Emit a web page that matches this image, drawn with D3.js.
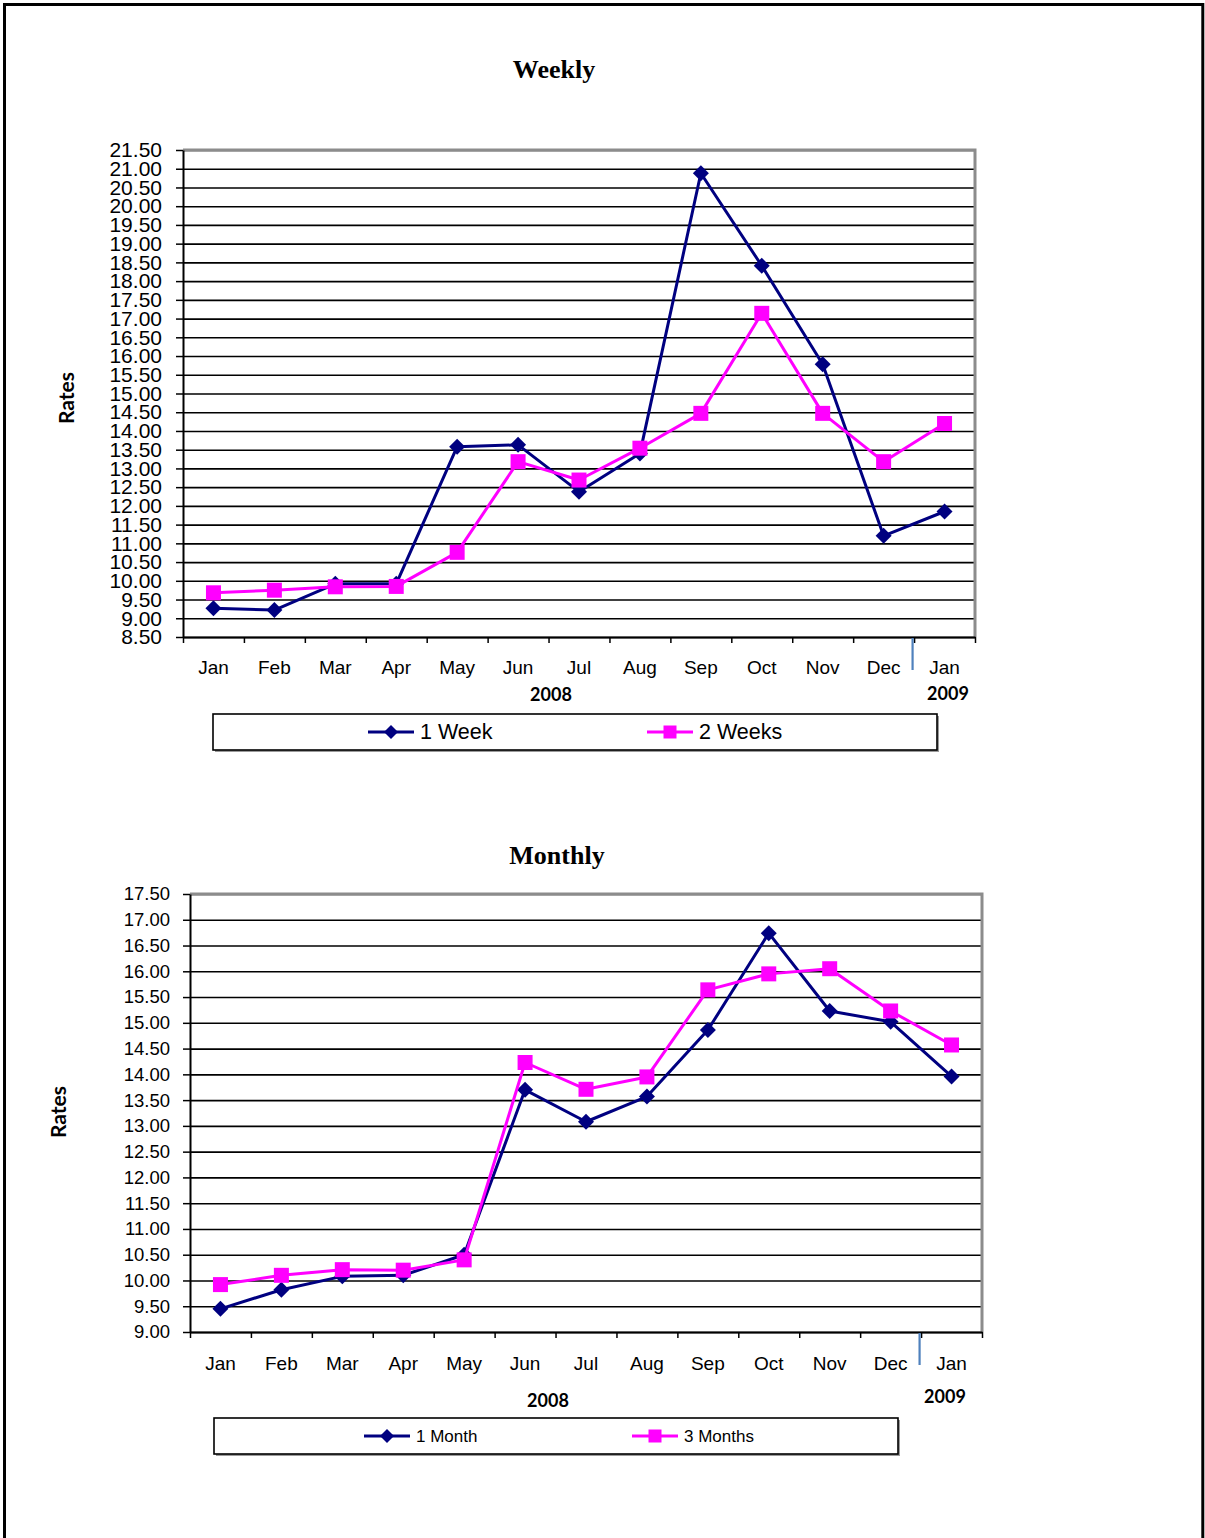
<!DOCTYPE html>
<html lang="en">
<head>
<meta charset="UTF-8">
<title>Weekly and Monthly Rates</title>
<script src="https://cdnjs.cloudflare.com/ajax/libs/d3/7.8.5/d3.min.js"></script>
<style>
body{ margin:0; background:#fff; }
svg{ display:block; }
</style>
</head>
<body>
<script>
// categories
var months = ["Jan", "Feb", "Mar", "Apr", "May", "Jun", "Jul", "Aug", "Sep", "Oct", "Nov", "Dec", "Jan"];
var years = ["2008", "2009"];

// weekly series
var oneWeek  = [9.27, 9.22, 9.92, 9.92, 13.58, 13.63, 12.38, 13.40, 20.88, 18.41, 15.78, 11.20, 11.85];
var twoWeeks = [9.68, 9.75, 9.84, 9.85, 10.76, 13.18, 12.69, 13.54, 14.47, 17.14, 14.47, 13.18, 14.20];

// monthly series
var oneMonth    = [9.45, 9.82, 10.08, 10.10, 10.50, 13.70, 13.08, 13.57, 14.86, 16.74, 15.23, 15.02, 13.96];
var threeMonths = [9.92, 10.10, 10.21, 10.20, 10.40, 14.23, 13.71, 13.95, 15.64, 15.95, 16.05, 15.23, 14.57];

// tick values
var weeklyTicks = [8.5, 9, 9.5, 10, 10.5, 11, 11.5, 12, 12.5, 13, 13.5, 14, 14.5, 15, 15.5,
                   16, 16.5, 17, 17.5, 18, 18.5, 19, 19.5, 20, 20.5, 21, 21.5];
var monthlyTicks = [9, 9.5, 10, 10.5, 11, 11.5, 12, 12.5, 13, 13.5, 14, 14.5, 15, 15.5, 16, 16.5, 17, 17.5];

var NAVY = "#000080", PINK = "#ff00ff";
var SANS = "'Liberation Sans', Arial, sans-serif";
var BOLD = "Lato, 'Open Sans', sans-serif";

var svg = d3.select("body").append("svg")
  .attr("width", 1205)
  .attr("height", 1538);

// page frame (open at the bottom)
svg.append("path")
  .attr("d", "M4.5,1540 V4.5 H1202.8 V1540")
  .attr("fill", "none")
  .attr("stroke", "#000")
  .attr("stroke-width", 3);

function diamond(r) {
  return "M0," + (-r) + "L" + r + ",0L0," + r + "L" + (-r) + ",0Z";
}
function square(r) {
  return "M" + (-r) + "," + (-r) + "H" + r + "V" + r + "H" + (-r) + "Z";
}

function drawChart(o) {
  var n = months.length;
  var x = d3.scaleBand().domain(d3.range(n)).range([o.left, o.left + o.width]);
  var xEdge = d3.scaleLinear().domain([0, n]).range([o.left, o.left + o.width]);
  var y = d3.scaleLinear().domain([o.ticks[0], o.ticks[o.ticks.length - 1]])
    .range([o.top + o.height, o.top]);
  var cx = function (i) { return x(i) + x.bandwidth() / 2; };
  var bottom = o.top + o.height;

  // title
  svg.append("text")
    .attr("x", o.titleX).attr("y", o.titleY)
    .attr("text-anchor", "middle")
    .style("font-family", "'Liberation Serif', 'Times New Roman', serif")
    .style("font-weight", "bold")
    .style("font-size", "26px")
    .text(o.title);

  // horizontal gridlines
  var grid = svg.append("g")
    .attr("transform", "translate(" + o.left + ",0)")
    .call(d3.axisLeft(y).tickValues(o.ticks).tickSize(-o.width).tickSizeOuter(0).tickFormat(""));
  grid.select(".domain").remove();
  grid.selectAll("line").attr("stroke", "#000").attr("stroke-width", 1.6);

  // gray plot frame top and right
  svg.append("path")
    .attr("d", "M" + o.left + "," + o.top + "H" + (o.left + o.width) + "V" + bottom)
    .attr("fill", "none")
    .attr("stroke", "#8c8c8c")
    .attr("stroke-width", 3);

  // y axis
  var yAxis = svg.append("g")
    .attr("transform", "translate(" + o.left + ",0)")
    .call(d3.axisLeft(y).tickValues(o.ticks).tickSize(7).tickSizeOuter(0)
      .tickPadding(o.yPad).tickFormat(d3.format(".2f")));
  yAxis.select(".domain").attr("stroke", "#000").attr("stroke-width", 2);
  yAxis.selectAll("line").attr("stroke", "#000").attr("stroke-width", 1.5);
  yAxis.selectAll("text")
    .style("font-family", SANS)
    .style("font-size", o.yFont + "px")
    .attr("fill", "#000");

  // x axis boundary ticks
  var xTicks = svg.append("g")
    .attr("transform", "translate(0," + bottom + ")")
    .call(d3.axisBottom(xEdge).tickValues(d3.range(n + 1)).tickSize(6).tickSizeOuter(0).tickFormat(""));
  xTicks.select(".domain").attr("stroke", "#000").attr("stroke-width", 2);
  xTicks.selectAll("line").attr("stroke", "#000").attr("stroke-width", 1.5);

  // month labels
  var xLab = svg.append("g")
    .attr("transform", "translate(0," + bottom + ")")
    .call(d3.axisBottom(x).tickSize(0).tickPadding(o.xPad).tickFormat(function (i) { return months[i]; }));
  xLab.select(".domain").remove();
  xLab.selectAll("text")
    .style("font-family", SANS)
    .style("font-size", o.xFont + "px")
    .attr("fill", "#000");

  // year separator
  svg.append("line")
    .attr("x1", xEdge(n - 1) - 1.5).attr("x2", xEdge(n - 1) - 1.5)
    .attr("y1", bottom + 1).attr("y2", bottom + 33)
    .attr("stroke", "#4f81bd")
    .attr("stroke-width", 2.2);

  // year labels
  svg.selectAll(null)
    .data(years)
    .enter().append("text")
    .attr("x", function (d, i) { return o.yearX[i]; })
    .attr("y", function (d, i) { return o.yearY[i]; })
    .attr("text-anchor", "middle")
    .style("font-family", BOLD)
    .style("font-weight", "bold")
    .style("font-size", "18px")
    .text(function (d) { return d; });

  // axis title
  svg.append("text")
    .attr("transform", "translate(" + o.ratesX + "," + o.ratesY + ") rotate(-90)")
    .attr("text-anchor", "middle")
    .attr("dominant-baseline", "central")
    .style("font-family", BOLD)
    .style("font-weight", "bold")
    .style("font-size", "21px")
    .text("Rates");

  // series
  var line = d3.line()
    .x(function (d, i) { return cx(i); })
    .y(function (d) { return y(d); });

  o.series.forEach(function (s) {
    svg.append("path")
      .datum(s.values)
      .attr("d", line)
      .attr("fill", "none")
      .attr("stroke", s.color)
      .attr("stroke-width", 3)
      .attr("stroke-linejoin", "round");

    svg.selectAll(null)
      .data(s.values)
      .enter().append("path")
      .attr("transform", function (d, i) { return "translate(" + cx(i) + "," + y(d) + ")"; })
      .attr("d", s.marker === "diamond" ? diamond(o.dSize) : square(o.sSize))
      .attr("fill", s.color);
  });

  // legend
  var L = o.legend;
  svg.append("rect")
    .attr("x", L.x + 2).attr("y", L.y + 2)
    .attr("width", L.w).attr("height", L.h)
    .attr("fill", "#9a9a9a");
  svg.append("rect")
    .attr("x", L.x).attr("y", L.y)
    .attr("width", L.w).attr("height", L.h)
    .attr("fill", "#fff")
    .attr("stroke", "#000")
    .attr("stroke-width", 1.6);

  var cy = L.y + L.h / 2;
  o.series.forEach(function (s, k) {
    var x0 = L.items[k];
    var g = svg.append("g");
    g.append("line")
      .attr("x1", x0).attr("x2", x0 + 46)
      .attr("y1", cy).attr("y2", cy)
      .attr("stroke", s.color)
      .attr("stroke-width", 3);
    g.append("path")
      .attr("transform", "translate(" + (x0 + 23) + "," + cy + ")")
      .attr("d", s.marker === "diamond" ? diamond(o.dSize - 1) : square(o.sSize - 1))
      .attr("fill", s.color);
    g.append("text")
      .attr("x", x0 + 52).attr("y", cy)
      .attr("dominant-baseline", "central")
      .style("font-family", SANS)
      .style("font-size", L.font + "px")
      .attr("fill", "#000")
      .text(s.name);
  });
}

drawChart({
  title: "Weekly", titleX: 554, titleY: 78,
  left: 183, top: 150, width: 792, height: 487,
  ticks: weeklyTicks, yPad: 14, yFont: 21,
  xPad: 24, xFont: 19,
  yearX: [551, 948], yearY: [701, 700],
  ratesX: 65, ratesY: 398,
  dSize: 8, sSize: 7.5,
  series: [
    { name: "1 Week", values: oneWeek, color: NAVY, marker: "diamond" },
    { name: "2 Weeks", values: twoWeeks, color: PINK, marker: "square" }
  ],
  legend: { x: 213, y: 714, w: 724, h: 36, font: 21.5, items: [368, 647] }
});

drawChart({
  title: "Monthly", titleX: 557, titleY: 864,
  left: 190, top: 894, width: 792, height: 438,
  ticks: monthlyTicks, yPad: 13, yFont: 18.5,
  xPad: 25, xFont: 19,
  yearX: [548, 945], yearY: [1407, 1403],
  ratesX: 57, ratesY: 1112,
  dSize: 8, sSize: 7.5,
  series: [
    { name: "1 Month", values: oneMonth, color: NAVY, marker: "diamond" },
    { name: "3 Months", values: threeMonths, color: PINK, marker: "square" }
  ],
  legend: { x: 214, y: 1418, w: 684, h: 36, font: 17, items: [364, 632] }
});
</script>
</body>
</html>
